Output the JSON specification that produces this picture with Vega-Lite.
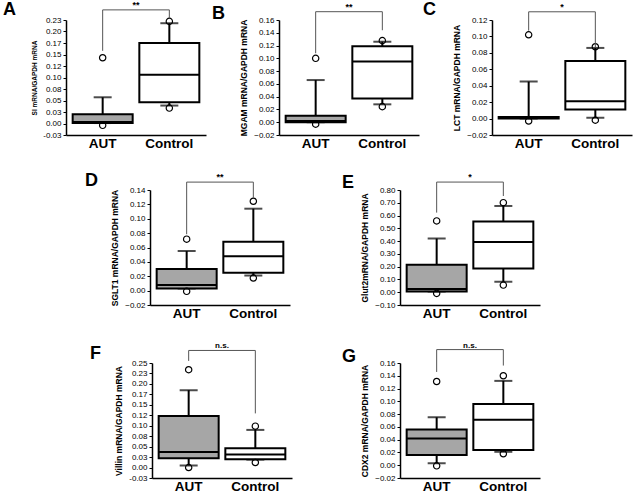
{
"$schema":"https://vega.github.io/schema/vega-lite/v6.json",
"padding":{"left":3,"top":0,"right":2,"bottom":2},
"background":"white",
"datasets":{
"boxes":[
{"panel":"A","group":"AUT","lo":0.001,"q1":0.001,"med":0.003,"q3":0.020,"hi":0.057},
{"panel":"A","group":"Control","lo":0.039,"q1":0.046,"med":0.106,"q3":0.175,"hi":0.218},
{"panel":"B","group":"AUT","lo":0.0,"q1":0.0,"med":0.002,"q3":0.010,"hi":0.066},
{"panel":"B","group":"Control","lo":0.028,"q1":0.037,"med":0.095,"q3":0.119,"hi":0.126},
{"panel":"C","group":"AUT","lo":0.0,"q1":0.0,"med":0.001,"q3":0.002,"hi":0.045},
{"panel":"C","group":"Control","lo":0.001,"q1":0.011,"med":0.021,"q3":0.070,"hi":0.086},
{"panel":"D","group":"AUT","lo":0.003,"q1":0.003,"med":0.008,"q3":0.030,"hi":0.055},
{"panel":"D","group":"Control","lo":0.021,"q1":0.025,"med":0.048,"q3":0.068,"hi":0.114},
{"panel":"E","group":"AUT","lo":0.005,"q1":0.005,"med":0.025,"q3":0.215,"hi":0.420},
{"panel":"E","group":"Control","lo":0.082,"q1":0.186,"med":0.394,"q3":0.553,"hi":0.675},
{"panel":"F","group":"AUT","lo":0.005,"q1":0.022,"med":0.037,"q3":0.123,"hi":0.185},
{"panel":"F","group":"Control","lo":0.019,"q1":0.020,"med":0.031,"q3":0.046,"hi":0.090},
{"panel":"G","group":"AUT","lo":0.003,"q1":0.016,"med":0.042,"q3":0.056,"hi":0.075},
{"panel":"G","group":"Control","lo":0.021,"q1":0.024,"med":0.071,"q3":0.096,"hi":0.132}
],
"outliers":[
{"panel":"A","group":"AUT","value":0.143},{"panel":"A","group":"AUT","value":-0.004},
{"panel":"A","group":"Control","value":0.222},{"panel":"A","group":"Control","value":0.0335},
{"panel":"B","group":"AUT","value":0.100},{"panel":"B","group":"AUT","value":-0.003},
{"panel":"B","group":"Control","value":0.1277},{"panel":"B","group":"Control","value":0.0244},
{"panel":"C","group":"AUT","value":0.102},{"panel":"C","group":"AUT","value":-0.003},
{"panel":"C","group":"Control","value":0.0874},{"panel":"C","group":"Control","value":-0.002},
{"panel":"D","group":"AUT","value":0.0716},{"panel":"D","group":"AUT","value":-0.001},
{"panel":"D","group":"Control","value":0.1243},{"panel":"D","group":"Control","value":0.0175},
{"panel":"E","group":"AUT","value":0.558},{"panel":"E","group":"AUT","value":-0.009},
{"panel":"E","group":"Control","value":0.701},{"panel":"E","group":"Control","value":0.056},
{"panel":"F","group":"AUT","value":0.234},{"panel":"F","group":"AUT","value":0.000},
{"panel":"F","group":"Control","value":0.099},{"panel":"F","group":"Control","value":0.012},
{"panel":"G","group":"AUT","value":0.131},{"panel":"G","group":"AUT","value":-0.001},
{"panel":"G","group":"Control","value":0.140},{"panel":"G","group":"Control","value":0.018}
],
"brackets":[
{"panel":"A","top":0.247,"left":0.158,"right":0.229,"label":"**"},
{"panel":"B","top":0.173,"left":0.108,"right":0.144,"label":"**"},
{"panel":"C","top":0.130,"left":0.107,"right":0.087,"label":"*"},
{"panel":"D","top":0.151,"left":0.0785,"right":0.129,"label":"**"},
{"panel":"E","top":0.862,"left":0.623,"right":0.753,"label":"*"},
{"panel":"F","top":0.280,"left":0.255,"right":0.1295,"label":"n.s."},
{"panel":"G","top":0.181,"left":0.146,"right":0.156,"label":"n.s."}
]
},
"spacing":21,
"vconcat":[
{"bounds":"flush","spacing":73,"hconcat":[
{"width":140,"height":115,"title":{"text":"A","dx":-63,"dy":22.5},
"layer":[
{"data":{"name":"boxes"},"transform":[{"filter":"datum.panel==='A'"}],
"encoding":{"x":{"field":"group","type":"nominal","scale":{"domain":["AUT","Control"],"paddingInner":0.1,"paddingOuter":0.1},"axis":{"title":null}},
"y":{"field":"lo","type":"quantitative","scale":{"domain":[-0.025,0.225],"nice":false,"zero":false},"axis":{"title":"SI mRNA/GAPDH mRNA","titleFontSize":6.5,"tickCount":30,"labelOverlap":false,"labelBound":false,"values":[-0.025,0,0.025,0.05,0.075,0.1,0.125,0.15,0.175,0.2,0.225],"labelExpr":"['-0.03','0.00','0.03','0.05','0.08','0.10','0.12','0.15','0.17','0.20','0.23'][round(datum.value*40)+1]"}}},
"layer":[
{"mark":{"type":"rule","color":"black","strokeWidth":2},"encoding":{"y2":{"field":"hi"}}},
{"mark":{"type":"tick","color":"black","size":18,"thickness":2},"encoding":{"y":{"field":"hi","type":"quantitative"}}},
{"mark":{"type":"tick","color":"black","size":18,"thickness":2}},
{"mark":{"type":"bar","stroke":"black","strokeWidth":2},"encoding":{"y":{"field":"q1","type":"quantitative"},"y2":{"field":"q3"},"fill":{"field":"group","type":"nominal","scale":{"domain":["AUT","Control"],"range":["#a6a6a6","#ffffff"]},"legend":null}}},
{"mark":{"type":"bar","stroke":"black","strokeWidth":2,"fill":null},"encoding":{"y":{"field":"med","type":"quantitative"},"y2":{"field":"med"}}}
]},
{"data":{"name":"outliers"},"transform":[{"filter":"datum.panel==='A'"}],"mark":{"type":"point","shape":"circle","size":40,"filled":false,"color":"black","strokeWidth":1.2,"opacity":1},"encoding":{"x":{"field":"group","type":"nominal"},"y":{"field":"value","type":"quantitative"}}},
{"data":{"name":"brackets"},"transform":[{"filter":"datum.panel==='A'"}],
"layer":[
{"mark":{"type":"rule","color":"#555","strokeWidth":1},"encoding":{"x":{"datum":"AUT","type":"nominal"},"y":{"field":"left","type":"quantitative"},"y2":{"field":"top"}}},
{"mark":{"type":"rule","color":"#555","strokeWidth":1},"encoding":{"x":{"datum":"Control","type":"nominal"},"y":{"field":"right","type":"quantitative"},"y2":{"field":"top"}}},
{"mark":{"type":"rule","color":"#555","strokeWidth":1},"encoding":{"x":{"datum":"AUT","type":"nominal"},"x2":{"datum":"Control"},"y":{"field":"top","type":"quantitative"}}},
{"mark":{"type":"text","fontWeight":"bold","fontSize":9,"baseline":"alphabetic","dy":-2,"color":"black"},"encoding":{"x":{"datum":"AUT","type":"nominal","bandPosition":1.0556},"y":{"field":"top","type":"quantitative"},"text":{"field":"label"}}}
]}
]},
{"width":140,"height":115,"title":{"text":"B","dx":-67,"dy":24.2},
"layer":[
{"data":{"name":"boxes"},"transform":[{"filter":"datum.panel==='B'"}],
"encoding":{"x":{"field":"group","type":"nominal","scale":{"domain":["AUT","Control"],"paddingInner":0.1,"paddingOuter":0.1},"axis":{"title":null}},
"y":{"field":"lo","type":"quantitative","scale":{"domain":[-0.02,0.16],"nice":false,"zero":false},"axis":{"title":"MGAM mRNA/GAPDH mRNA","tickCount":30,"labelOverlap":false,"labelBound":false,"values":[-0.02,0,0.02,0.04,0.06,0.08,0.1,0.12,0.14,0.16],"format":".2f"}}},
"layer":[
{"mark":{"type":"rule","color":"black","strokeWidth":2},"encoding":{"y2":{"field":"hi"}}},
{"mark":{"type":"tick","color":"black","size":18,"thickness":2},"encoding":{"y":{"field":"hi","type":"quantitative"}}},
{"mark":{"type":"tick","color":"black","size":18,"thickness":2}},
{"mark":{"type":"bar","stroke":"black","strokeWidth":2},"encoding":{"y":{"field":"q1","type":"quantitative"},"y2":{"field":"q3"},"fill":{"field":"group","type":"nominal","scale":{"domain":["AUT","Control"],"range":["#a6a6a6","#ffffff"]},"legend":null}}},
{"mark":{"type":"bar","stroke":"black","strokeWidth":2,"fill":null},"encoding":{"y":{"field":"med","type":"quantitative"},"y2":{"field":"med"}}}
]},
{"data":{"name":"outliers"},"transform":[{"filter":"datum.panel==='B'"}],"mark":{"type":"point","shape":"circle","size":40,"filled":false,"color":"black","strokeWidth":1.2,"opacity":1},"encoding":{"x":{"field":"group","type":"nominal"},"y":{"field":"value","type":"quantitative"}}},
{"data":{"name":"brackets"},"transform":[{"filter":"datum.panel==='B'"}],
"layer":[
{"mark":{"type":"rule","color":"#555","strokeWidth":1},"encoding":{"x":{"datum":"AUT","type":"nominal"},"y":{"field":"left","type":"quantitative"},"y2":{"field":"top"}}},
{"mark":{"type":"rule","color":"#555","strokeWidth":1},"encoding":{"x":{"datum":"Control","type":"nominal"},"y":{"field":"right","type":"quantitative"},"y2":{"field":"top"}}},
{"mark":{"type":"rule","color":"#555","strokeWidth":1},"encoding":{"x":{"datum":"AUT","type":"nominal"},"x2":{"datum":"Control"},"y":{"field":"top","type":"quantitative"}}},
{"mark":{"type":"text","fontWeight":"bold","fontSize":9,"baseline":"alphabetic","dy":-2,"color":"black"},"encoding":{"x":{"datum":"AUT","type":"nominal","bandPosition":1.0556},"y":{"field":"top","type":"quantitative"},"text":{"field":"label"}}}
]}
]},
{"width":140,"height":115,"title":{"text":"C","dx":-69,"dy":20.5},
"layer":[
{"data":{"name":"boxes"},"transform":[{"filter":"datum.panel==='C'"}],
"encoding":{"x":{"field":"group","type":"nominal","scale":{"domain":["AUT","Control"],"paddingInner":0.1,"paddingOuter":0.1},"axis":{"title":null}},
"y":{"field":"lo","type":"quantitative","scale":{"domain":[-0.02,0.12],"nice":false,"zero":false},"axis":{"title":"LCT mRNA/GAPDH mRNA","tickCount":30,"labelOverlap":false,"labelBound":false,"values":[-0.02,0,0.02,0.04,0.06,0.08,0.1,0.12],"format":".2f"}}},
"layer":[
{"mark":{"type":"rule","color":"black","strokeWidth":2},"encoding":{"y2":{"field":"hi"}}},
{"mark":{"type":"tick","color":"black","size":18,"thickness":2},"encoding":{"y":{"field":"hi","type":"quantitative"}}},
{"mark":{"type":"tick","color":"black","size":18,"thickness":2}},
{"mark":{"type":"bar","stroke":"black","strokeWidth":2},"encoding":{"y":{"field":"q1","type":"quantitative"},"y2":{"field":"q3"},"fill":{"field":"group","type":"nominal","scale":{"domain":["AUT","Control"],"range":["#a6a6a6","#ffffff"]},"legend":null}}},
{"mark":{"type":"bar","stroke":"black","strokeWidth":2,"fill":null},"encoding":{"y":{"field":"med","type":"quantitative"},"y2":{"field":"med"}}}
]},
{"data":{"name":"outliers"},"transform":[{"filter":"datum.panel==='C'"}],"mark":{"type":"point","shape":"circle","size":40,"filled":false,"color":"black","strokeWidth":1.2,"opacity":1},"encoding":{"x":{"field":"group","type":"nominal"},"y":{"field":"value","type":"quantitative"}}},
{"data":{"name":"brackets"},"transform":[{"filter":"datum.panel==='C'"}],
"layer":[
{"mark":{"type":"rule","color":"#555","strokeWidth":1},"encoding":{"x":{"datum":"AUT","type":"nominal"},"y":{"field":"left","type":"quantitative"},"y2":{"field":"top"}}},
{"mark":{"type":"rule","color":"#555","strokeWidth":1},"encoding":{"x":{"datum":"Control","type":"nominal"},"y":{"field":"right","type":"quantitative"},"y2":{"field":"top"}}},
{"mark":{"type":"rule","color":"#555","strokeWidth":1},"encoding":{"x":{"datum":"AUT","type":"nominal"},"x2":{"datum":"Control"},"y":{"field":"top","type":"quantitative"}}},
{"mark":{"type":"text","fontWeight":"bold","fontSize":9,"baseline":"alphabetic","dy":-2,"color":"black"},"encoding":{"x":{"datum":"AUT","type":"nominal","bandPosition":1.0556},"y":{"field":"top","type":"quantitative"},"text":{"field":"label"}}}
]}
]}
]},
{"bounds":"flush","spacing":20,"hconcat":[
{"width":64,"height":10,"data":{"values":[{}]},"mark":{"type":"point","opacity":0},"encoding":{}},
{"width":140,"height":115,"title":{"text":"D","dx":-65,"dy":20.6},
"layer":[
{"data":{"name":"boxes"},"transform":[{"filter":"datum.panel==='D'"}],
"encoding":{"x":{"field":"group","type":"nominal","scale":{"domain":["AUT","Control"],"paddingInner":0.1,"paddingOuter":0.1},"axis":{"title":null}},
"y":{"field":"lo","type":"quantitative","scale":{"domain":[-0.02,0.14],"nice":false,"zero":false},"axis":{"title":"SGLT1 mRNA/GAPDH mRNA","tickCount":30,"labelOverlap":false,"labelBound":false,"values":[-0.02,0,0.02,0.04,0.06,0.08,0.1,0.12,0.14],"format":".2f"}}},
"layer":[
{"mark":{"type":"rule","color":"black","strokeWidth":2},"encoding":{"y2":{"field":"hi"}}},
{"mark":{"type":"tick","color":"black","size":18,"thickness":2},"encoding":{"y":{"field":"hi","type":"quantitative"}}},
{"mark":{"type":"tick","color":"black","size":18,"thickness":2}},
{"mark":{"type":"bar","stroke":"black","strokeWidth":2},"encoding":{"y":{"field":"q1","type":"quantitative"},"y2":{"field":"q3"},"fill":{"field":"group","type":"nominal","scale":{"domain":["AUT","Control"],"range":["#a6a6a6","#ffffff"]},"legend":null}}},
{"mark":{"type":"bar","stroke":"black","strokeWidth":2,"fill":null},"encoding":{"y":{"field":"med","type":"quantitative"},"y2":{"field":"med"}}}
]},
{"data":{"name":"outliers"},"transform":[{"filter":"datum.panel==='D'"}],"mark":{"type":"point","shape":"circle","size":40,"filled":false,"color":"black","strokeWidth":1.2,"opacity":1},"encoding":{"x":{"field":"group","type":"nominal"},"y":{"field":"value","type":"quantitative"}}},
{"data":{"name":"brackets"},"transform":[{"filter":"datum.panel==='D'"}],
"layer":[
{"mark":{"type":"rule","color":"#555","strokeWidth":1},"encoding":{"x":{"datum":"AUT","type":"nominal"},"y":{"field":"left","type":"quantitative"},"y2":{"field":"top"}}},
{"mark":{"type":"rule","color":"#555","strokeWidth":1},"encoding":{"x":{"datum":"Control","type":"nominal"},"y":{"field":"right","type":"quantitative"},"y2":{"field":"top"}}},
{"mark":{"type":"rule","color":"#555","strokeWidth":1},"encoding":{"x":{"datum":"AUT","type":"nominal"},"x2":{"datum":"Control"},"y":{"field":"top","type":"quantitative"}}},
{"mark":{"type":"text","fontWeight":"bold","fontSize":9,"baseline":"alphabetic","dy":-2,"color":"black"},"encoding":{"x":{"datum":"AUT","type":"nominal","bandPosition":1.0556},"y":{"field":"top","type":"quantitative"},"text":{"field":"label"}}}
]}
]},
{"width":70,"height":10,"data":{"values":[{}]},"mark":{"type":"point","opacity":0},"encoding":{}},
{"width":140,"height":115,"title":{"text":"E","dx":-58,"dy":23},
"layer":[
{"data":{"name":"boxes"},"transform":[{"filter":"datum.panel==='E'"}],
"encoding":{"x":{"field":"group","type":"nominal","scale":{"domain":["AUT","Control"],"paddingInner":0.1,"paddingOuter":0.1},"axis":{"title":null}},
"y":{"field":"lo","type":"quantitative","scale":{"domain":[-0.1,0.8],"nice":false,"zero":false},"axis":{"title":"Glut2mRNA/GAPDH mRNA","tickCount":30,"labelOverlap":false,"labelBound":false,"values":[-0.1,0,0.1,0.2,0.3,0.4,0.5,0.6,0.7,0.8],"format":".2f"}}},
"layer":[
{"mark":{"type":"rule","color":"black","strokeWidth":2},"encoding":{"y2":{"field":"hi"}}},
{"mark":{"type":"tick","color":"black","size":18,"thickness":2},"encoding":{"y":{"field":"hi","type":"quantitative"}}},
{"mark":{"type":"tick","color":"black","size":18,"thickness":2}},
{"mark":{"type":"bar","stroke":"black","strokeWidth":2},"encoding":{"y":{"field":"q1","type":"quantitative"},"y2":{"field":"q3"},"fill":{"field":"group","type":"nominal","scale":{"domain":["AUT","Control"],"range":["#a6a6a6","#ffffff"]},"legend":null}}},
{"mark":{"type":"bar","stroke":"black","strokeWidth":2,"fill":null},"encoding":{"y":{"field":"med","type":"quantitative"},"y2":{"field":"med"}}}
]},
{"data":{"name":"outliers"},"transform":[{"filter":"datum.panel==='E'"}],"mark":{"type":"point","shape":"circle","size":40,"filled":false,"color":"black","strokeWidth":1.2,"opacity":1},"encoding":{"x":{"field":"group","type":"nominal"},"y":{"field":"value","type":"quantitative"}}},
{"data":{"name":"brackets"},"transform":[{"filter":"datum.panel==='E'"}],
"layer":[
{"mark":{"type":"rule","color":"#555","strokeWidth":1},"encoding":{"x":{"datum":"AUT","type":"nominal"},"y":{"field":"left","type":"quantitative"},"y2":{"field":"top"}}},
{"mark":{"type":"rule","color":"#555","strokeWidth":1},"encoding":{"x":{"datum":"Control","type":"nominal"},"y":{"field":"right","type":"quantitative"},"y2":{"field":"top"}}},
{"mark":{"type":"rule","color":"#555","strokeWidth":1},"encoding":{"x":{"datum":"AUT","type":"nominal"},"x2":{"datum":"Control"},"y":{"field":"top","type":"quantitative"}}},
{"mark":{"type":"text","fontWeight":"bold","fontSize":9,"baseline":"alphabetic","dy":-2,"color":"black"},"encoding":{"x":{"datum":"AUT","type":"nominal","bandPosition":1.0556},"y":{"field":"top","type":"quantitative"},"text":{"field":"label"}}}
]}
]}
]},
{"bounds":"flush","spacing":20,"hconcat":[
{"width":66,"height":10,"data":{"values":[{}]},"mark":{"type":"point","opacity":0},"encoding":{}},
{"width":140,"height":115,"title":{"text":"F","dx":-62,"dy":24.2},
"layer":[
{"data":{"name":"boxes"},"transform":[{"filter":"datum.panel==='F'"}],
"encoding":{"x":{"field":"group","type":"nominal","scale":{"domain":["AUT","Control"],"paddingInner":0.1,"paddingOuter":0.1},"axis":{"title":null}},
"y":{"field":"lo","type":"quantitative","scale":{"domain":[-0.025,0.25],"nice":false,"zero":false},"axis":{"title":"Villin mRNA/GAPDH mRNA","tickCount":30,"labelOverlap":false,"labelBound":false,"values":[-0.025,0,0.025,0.05,0.075,0.1,0.125,0.15,0.175,0.2,0.225,0.25],"labelExpr":"['-0.03','0.00','0.03','0.05','0.08','0.10','0.12','0.15','0.17','0.20','0.23','0.25'][round(datum.value*40)+1]"}}},
"layer":[
{"mark":{"type":"rule","color":"black","strokeWidth":2},"encoding":{"y2":{"field":"hi"}}},
{"mark":{"type":"tick","color":"black","size":18,"thickness":2},"encoding":{"y":{"field":"hi","type":"quantitative"}}},
{"mark":{"type":"tick","color":"black","size":18,"thickness":2}},
{"mark":{"type":"bar","stroke":"black","strokeWidth":2},"encoding":{"y":{"field":"q1","type":"quantitative"},"y2":{"field":"q3"},"fill":{"field":"group","type":"nominal","scale":{"domain":["AUT","Control"],"range":["#a6a6a6","#ffffff"]},"legend":null}}},
{"mark":{"type":"bar","stroke":"black","strokeWidth":2,"fill":null},"encoding":{"y":{"field":"med","type":"quantitative"},"y2":{"field":"med"}}}
]},
{"data":{"name":"outliers"},"transform":[{"filter":"datum.panel==='F'"}],"mark":{"type":"point","shape":"circle","size":40,"filled":false,"color":"black","strokeWidth":1.2,"opacity":1},"encoding":{"x":{"field":"group","type":"nominal"},"y":{"field":"value","type":"quantitative"}}},
{"data":{"name":"brackets"},"transform":[{"filter":"datum.panel==='F'"}],
"layer":[
{"mark":{"type":"rule","color":"#555","strokeWidth":1},"encoding":{"x":{"datum":"AUT","type":"nominal"},"y":{"field":"left","type":"quantitative"},"y2":{"field":"top"}}},
{"mark":{"type":"rule","color":"#555","strokeWidth":1},"encoding":{"x":{"datum":"Control","type":"nominal"},"y":{"field":"right","type":"quantitative"},"y2":{"field":"top"}}},
{"mark":{"type":"rule","color":"#555","strokeWidth":1},"encoding":{"x":{"datum":"AUT","type":"nominal"},"x2":{"datum":"Control"},"y":{"field":"top","type":"quantitative"}}},
{"mark":{"type":"text","fontWeight":"bold","fontSize":8,"baseline":"alphabetic","dy":-2,"color":"black"},"encoding":{"x":{"datum":"AUT","type":"nominal","bandPosition":1.0556},"y":{"field":"top","type":"quantitative"},"text":{"field":"label"}}}
]}
]},
{"width":68,"height":10,"data":{"values":[{}]},"mark":{"type":"point","opacity":0},"encoding":{}},
{"width":140,"height":115,"title":{"text":"G","dx":-58,"dy":28.5},
"layer":[
{"data":{"name":"boxes"},"transform":[{"filter":"datum.panel==='G'"}],
"encoding":{"x":{"field":"group","type":"nominal","scale":{"domain":["AUT","Control"],"paddingInner":0.1,"paddingOuter":0.1},"axis":{"title":null}},
"y":{"field":"lo","type":"quantitative","scale":{"domain":[-0.02,0.16],"nice":false,"zero":false},"axis":{"title":"CDX2 mRNA/GAPDH mRNA","tickCount":30,"labelOverlap":false,"labelBound":false,"values":[-0.02,0,0.02,0.04,0.06,0.08,0.1,0.12,0.14,0.16],"format":".2f"}}},
"layer":[
{"mark":{"type":"rule","color":"black","strokeWidth":2},"encoding":{"y2":{"field":"hi"}}},
{"mark":{"type":"tick","color":"black","size":18,"thickness":2},"encoding":{"y":{"field":"hi","type":"quantitative"}}},
{"mark":{"type":"tick","color":"black","size":18,"thickness":2}},
{"mark":{"type":"bar","stroke":"black","strokeWidth":2},"encoding":{"y":{"field":"q1","type":"quantitative"},"y2":{"field":"q3"},"fill":{"field":"group","type":"nominal","scale":{"domain":["AUT","Control"],"range":["#a6a6a6","#ffffff"]},"legend":null}}},
{"mark":{"type":"bar","stroke":"black","strokeWidth":2,"fill":null},"encoding":{"y":{"field":"med","type":"quantitative"},"y2":{"field":"med"}}}
]},
{"data":{"name":"outliers"},"transform":[{"filter":"datum.panel==='G'"}],"mark":{"type":"point","shape":"circle","size":40,"filled":false,"color":"black","strokeWidth":1.2,"opacity":1},"encoding":{"x":{"field":"group","type":"nominal"},"y":{"field":"value","type":"quantitative"}}},
{"data":{"name":"brackets"},"transform":[{"filter":"datum.panel==='G'"}],
"layer":[
{"mark":{"type":"rule","color":"#555","strokeWidth":1},"encoding":{"x":{"datum":"AUT","type":"nominal"},"y":{"field":"left","type":"quantitative"},"y2":{"field":"top"}}},
{"mark":{"type":"rule","color":"#555","strokeWidth":1},"encoding":{"x":{"datum":"Control","type":"nominal"},"y":{"field":"right","type":"quantitative"},"y2":{"field":"top"}}},
{"mark":{"type":"rule","color":"#555","strokeWidth":1},"encoding":{"x":{"datum":"AUT","type":"nominal"},"x2":{"datum":"Control"},"y":{"field":"top","type":"quantitative"}}},
{"mark":{"type":"text","fontWeight":"bold","fontSize":8,"baseline":"alphabetic","dy":-2,"color":"black"},"encoding":{"x":{"datum":"AUT","type":"nominal","bandPosition":1.0556},"y":{"field":"top","type":"quantitative"},"text":{"field":"label"}}}
]}
]}
]}
],
"config":{
"view":{"stroke":null},
"font":"Liberation Sans",
"axis":{"grid":false,"domainColor":"black","domainWidth":1.5,"tickColor":"black","labelColor":"black","titleColor":"black","labelFont":"Liberation Sans","titleFont":"Liberation Sans"},
"axisY":{"labelFontSize":8,"tickSize":3,"labelPadding":2,"titleFontSize":8.5,"titleFontWeight":"bold","titlePadding":5,"labelOverlap":false},
"axisX":{"labelFontSize":13.5,"labelFontWeight":"bold","ticks":false,"labelAngle":0,"labelPadding":1,"title":null},
"title":{"anchor":"start","frame":"group","fontSize":18,"fontWeight":"bold","color":"black","offset":4,"font":"Liberation Sans"},
"text":{"font":"Liberation Sans"}
}
}
